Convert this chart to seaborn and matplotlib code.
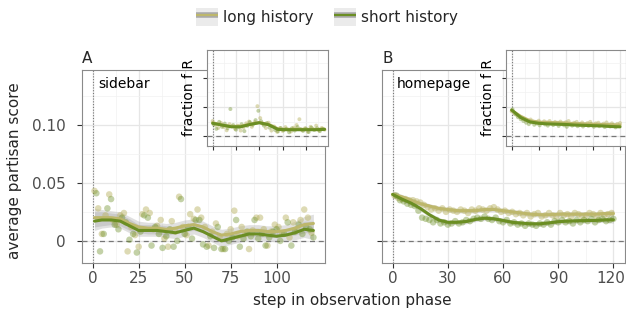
import numpy as np
import matplotlib
matplotlib.use("Agg")
import matplotlib.pyplot as plt
import matplotlib.transforms as mtransforms
import seaborn as sns
from matplotlib.patches import Patch
from matplotlib.lines import Line2D
from matplotlib.ticker import FixedLocator

# ---- data ----
series_names = ["long history", "short history"]
colors = {"long history": "#bdb76b", "short history": "#6b8e23"}

# panel A (sidebar): points, long at odd steps 1..119, short at even steps 2..120
a_long_pts = [0.043, 0.028, 0.006, 0.022, 0.040, 0.018, 0.014, 0.022, 0.024, -0.009,
              0.012, 0.005, -0.005, 0.023, 0.027, 0.024, 0.010, 0.013, 0.018, 0.002,
              -0.005, 0.017, 0.008, 0.038, 0.012, 0.005, 0.023, 0.019, 0.027, 0.020,
              0.012, -0.004, 0.008, 0.015, 0.003, -0.007, 0.006, 0.010, 0.026, 0.004,
              0.012, 0.006, -0.007, 0.009, 0.020, 0.020, 0.010, -0.004, 0.008, 0.014,
              0.012, 0.006, 0.020, 0.003, 0.016, 0.010, 0.018, 0.027, 0.020, 0.007]
a_short_pts = [0.041, -0.009, 0.006, 0.028, 0.036, 0.014, 0.010, 0.020, 0.016, 0.001,
               0.006, -0.010, 0.008, 0.022, 0.020, -0.004, 0.012, 0.006, -0.006, 0.004,
               0.010, -0.005, 0.000, 0.036, 0.006, 0.012, 0.002, 0.018, 0.018, -0.003,
               -0.005, 0.004, -0.006, 0.012, -0.007, -0.007, 0.000, 0.003, 0.018, -0.005,
               0.002, 0.008, 0.004, 0.018, 0.002, 0.006, -0.004, 0.003, 0.008, 0.010,
               0.000, 0.006, 0.016, -0.004, 0.008, 0.014, 0.006, 0.012, 0.010, 0.003]
# smoothed fits every 5 steps
smooth_steps = [1, 5, 10, 15, 20, 25, 30, 35, 40, 45, 50, 55, 60, 65, 70, 75, 80,
                85, 90, 95, 100, 105, 110, 115, 120]
a_long_fit = [0.020, 0.020, 0.020, 0.019, 0.015, 0.012, 0.011, 0.011, 0.010, 0.011,
              0.013, 0.014, 0.012, 0.008, 0.005, 0.006, 0.008, 0.009, 0.009, 0.008,
              0.008, 0.009, 0.011, 0.014, 0.015]
a_short_fit = [0.017, 0.018, 0.018, 0.017, 0.013, 0.009, 0.009, 0.009, 0.008, 0.007,
               0.009, 0.011, 0.008, 0.004, 0.000, 0.002, 0.004, 0.006, 0.006, 0.005,
               0.004, 0.005, 0.007, 0.010, 0.009]
a_band = [0.008, 0.007, 0.006, 0.006, 0.006, 0.005, 0.005, 0.005, 0.005, 0.005,
          0.005, 0.005, 0.005, 0.005, 0.005, 0.005, 0.005, 0.005, 0.005, 0.005,
          0.005, 0.005, 0.006, 0.007, 0.008]

# panel B (homepage)
b_long_pts = [0.039, 0.037, 0.036, 0.036, 0.035, 0.035, 0.034, 0.033, 0.031, 0.029,
              0.027, 0.028, 0.026, 0.028, 0.025, 0.027, 0.026, 0.025, 0.027, 0.026,
              0.024, 0.027, 0.026, 0.028, 0.027, 0.026, 0.028, 0.029, 0.027, 0.025,
              0.026, 0.024, 0.025, 0.023, 0.024, 0.022, 0.024, 0.021, 0.023, 0.024,
              0.021, 0.022, 0.024, 0.022, 0.021, 0.024, 0.022, 0.023, 0.021, 0.024,
              0.023, 0.021, 0.022, 0.024, 0.023, 0.021, 0.024, 0.022, 0.023, 0.024]
b_short_pts = [0.039, 0.035, 0.034, 0.032, 0.031, 0.030, 0.026, 0.020, 0.019, 0.018,
               0.016, 0.018, 0.015, 0.016, 0.014, 0.015, 0.017, 0.015, 0.016, 0.018,
               0.017, 0.019, 0.020, 0.019, 0.021, 0.019, 0.018, 0.020, 0.017, 0.016,
               0.018, 0.015, 0.016, 0.014, 0.015, 0.013, 0.015, 0.014, 0.013, 0.015,
               0.014, 0.016, 0.014, 0.017, 0.016, 0.018, 0.016, 0.017, 0.015, 0.018,
               0.016, 0.018, 0.017, 0.019, 0.016, 0.018, 0.019, 0.017, 0.018, 0.019]
b_smooth_steps = [0, 5, 10, 15, 20, 25, 30, 35, 40, 45, 50, 55, 60, 65, 70, 75, 80,
                  85, 90, 95, 100, 105, 110, 115, 120]
b_long_fit = [0.040, 0.038, 0.035, 0.032, 0.030, 0.028, 0.027, 0.026, 0.026, 0.026,
              0.027, 0.027, 0.026, 0.025, 0.024, 0.023, 0.0225, 0.0225, 0.023, 0.023,
              0.023, 0.023, 0.023, 0.0235, 0.0235]
b_short_fit = [0.040, 0.036, 0.0325, 0.028, 0.0225, 0.018, 0.016, 0.016, 0.0167, 0.0185,
               0.0195, 0.019, 0.0176, 0.016, 0.0153, 0.0147, 0.0147, 0.0155, 0.0165, 0.017,
               0.0173, 0.0175, 0.0176, 0.018, 0.0182]
b_band = [0.003, 0.002, 0.002, 0.002, 0.002, 0.002, 0.002, 0.002, 0.002, 0.002,
          0.002, 0.002, 0.002, 0.002, 0.002, 0.002, 0.002, 0.002, 0.002, 0.002,
          0.002, 0.002, 0.002, 0.002, 0.003]

# insets: fraction of R; long at steps 0..120 by 3, short at 1..118 by 3
ia_long_pts = [0.552, 0.538, 0.528, 0.545, 0.531, 0.520, 0.541, 0.534, 0.525, 0.536,
               0.519, 0.529, 0.544, 0.550, 0.532, 0.548, 0.603, 0.562, 0.541, 0.528,
               0.546, 0.519, 0.533, 0.515, 0.527, 0.518, 0.531, 0.522, 0.516, 0.529,
               0.538, 0.558, 0.520, 0.527, 0.515, 0.532, 0.524, 0.536, 0.519, 0.528,
               0.522]
ia_short_pts = [0.540, 0.525, 0.549, 0.532, 0.543, 0.527, 0.593, 0.538, 0.522, 0.530,
                0.541, 0.517, 0.535, 0.548, 0.539, 0.555, 0.587, 0.551, 0.536, 0.545,
                0.529, 0.533, 0.521, 0.516, 0.528, 0.520, 0.525, 0.513, 0.527, 0.519,
                0.531, 0.524, 0.518, 0.526, 0.514, 0.529, 0.521, 0.527, 0.517, 0.525]
inset_steps = [0, 10, 20, 30, 40, 50, 60, 70, 80, 90, 100, 110, 120]
ia_long_fit = [0.546, 0.538, 0.533, 0.534, 0.541, 0.547, 0.540, 0.525, 0.523, 0.524,
               0.523, 0.523, 0.524]
ia_short_fit = [0.544, 0.538, 0.532, 0.532, 0.540, 0.546, 0.539, 0.523, 0.522, 0.522,
                0.522, 0.522, 0.523]

ib_long_pts = [0.585, 0.578, 0.571, 0.566, 0.560, 0.556, 0.553, 0.557, 0.550, 0.549,
               0.553, 0.545, 0.551, 0.547, 0.552, 0.544, 0.549, 0.546, 0.550, 0.543,
               0.548, 0.552, 0.541, 0.546, 0.549, 0.542, 0.547, 0.540, 0.545, 0.549,
               0.539, 0.544, 0.546, 0.538, 0.543, 0.547, 0.540, 0.544, 0.537, 0.542,
               0.545]
ib_short_pts = [0.592, 0.575, 0.565, 0.558, 0.552, 0.546, 0.541, 0.547, 0.539, 0.543,
                0.537, 0.545, 0.540, 0.536, 0.544, 0.538, 0.542, 0.535, 0.541, 0.537,
                0.532, 0.540, 0.536, 0.543, 0.534, 0.539, 0.533, 0.538, 0.535, 0.541,
                0.532, 0.537, 0.534, 0.539, 0.531, 0.536, 0.533, 0.538, 0.530, 0.535]
ib_long_fit = [0.588, 0.568, 0.553, 0.548, 0.547, 0.546, 0.545, 0.543, 0.542, 0.541,
               0.540, 0.539, 0.538]
ib_short_fit = [0.590, 0.564, 0.549, 0.544, 0.542, 0.541, 0.540, 0.538, 0.537, 0.536,
                0.535, 0.533, 0.532]

a_xticks = [0, 25, 50, 75, 100]
b_xticks = [0, 30, 60, 90, 120]
y_ticks = [0, 0.05, 0.10]
y_ticklabels = ["0", "0.05", "0.10"]
inset_yticks = [0.5, 0.6, 0.7]


def steps(start, step, vals):
    return list(range(start, start + step * len(vals), step))


sns.set_theme(style="white")
plt.rcParams["font.family"] = ["DejaVu Sans"]

W, H = 626, 318
fig = plt.figure(figsize=(W / 100, H / 100), dpi=100)


def px_axes(x0, y0, x1, y1):
    return fig.add_axes([x0 / W, 1 - y1 / H, (x1 - x0) / W, (y1 - y0) / H])


def style(ax, xticks, minor_x, yticks, minor_y):
    ax.set_facecolor("white")
    for s in ax.spines.values():
        s.set_color("#8a8a8a")
        s.set_linewidth(0.8)
    ax.xaxis.set_major_locator(FixedLocator(xticks))
    ax.xaxis.set_minor_locator(FixedLocator(minor_x))
    ax.yaxis.set_major_locator(FixedLocator(yticks))
    ax.yaxis.set_minor_locator(FixedLocator(minor_y))
    ax.grid(True, which="major", color="#e6e6e6", lw=0.9)
    ax.grid(True, which="minor", color="#f2f2f2", lw=0.5)
    ax.set_axisbelow(True)
    ax.tick_params(which="major", length=3.5, width=0.8, color="#333333",
                   labelcolor="#4d4d4d", labelsize=11, pad=2,
                   bottom=True, left=True)
    ax.tick_params(which="minor", length=0)
    ax.axvline(0, color="#777777", lw=0.8, ls=(0, (1, 1.5)), zorder=1.5)
    ax.axhline(yticks[0], color="#777777", lw=0.9, ls=(0, (4, 3)), zorder=1.5)
    ax.set_xlabel("")
    ax.set_ylabel("")


def draw(ax, long_pts, short_pts, long_x, short_x, fit_x, long_fit, short_fit,
         band=None, s=22, lw=2.2):
    if band is not None:
        for fit in (long_fit, short_fit):
            lo = np.array(fit) - np.array(band)
            hi = np.array(fit) + np.array(band)
            ax.fill_between(fit_x, lo, hi, color="#9a9a9a", alpha=0.3, lw=0, zorder=2)
    sns.scatterplot(x=long_x, y=long_pts, ax=ax, color=colors["long history"],
                    s=s, alpha=0.5, edgecolor="none", legend=False, zorder=3)
    sns.scatterplot(x=short_x, y=short_pts, ax=ax, color=colors["short history"],
                    s=s, alpha=0.4, edgecolor="none", legend=False, zorder=3)
    sns.lineplot(x=fit_x, y=long_fit, ax=ax, color=colors["long history"], lw=lw,
                 zorder=4)
    sns.lineplot(x=fit_x, y=short_fit, ax=ax, color=colors["short history"], lw=lw,
                 zorder=4)


# main panels
axA = px_axes(82, 70, 325, 263)
axB = px_axes(382, 70, 625, 263)

draw(axA, a_long_pts, a_short_pts, steps(1, 2, a_long_pts), steps(2, 2, a_short_pts),
     smooth_steps, a_long_fit, a_short_fit, band=a_band)
draw(axB, b_long_pts, b_short_pts, steps(1, 2, b_long_pts), steps(2, 2, b_short_pts),
     b_smooth_steps, b_long_fit, b_short_fit, band=b_band)

ymin, ymax = -0.019, 0.147
for ax, xt, mx in ((axA, a_xticks, [12.5, 37.5, 62.5, 87.5, 112.5]),
                   (axB, b_xticks, [15, 45, 75, 105])):
    style(ax, xt, mx, y_ticks, [0.025, 0.075, 0.125])
    ax.set_xlim(-5.8, 126.3)
    ax.set_ylim(ymin, ymax)
    ax.set_xticklabels([str(t) for t in xt])
axA.set_yticklabels(y_ticklabels)
axA.tick_params(axis="y", pad=8)
axB.set_yticklabels([])

# nudge the last tick label of panel B so it stays inside the figure
last = axB.get_xticklabels()[-1]
last.set_transform(last.get_transform() +
                   mtransforms.ScaledTranslation(-3 / 100, 0, fig.dpi_scale_trans))

axA.text(0.066, 0.93, "sidebar", transform=axA.transAxes, fontsize=10,
         va="center", ha="left", color="black")
axB.text(0.062, 0.93, "homepage", transform=axB.transAxes, fontsize=10,
         va="center", ha="left", color="black")

# insets
insA = px_axes(207, 50, 328, 146)
insB = px_axes(506, 50, 626, 146)
draw(insA, ia_long_pts, ia_short_pts, steps(0, 3, ia_long_pts), steps(1, 3, ia_short_pts),
     inset_steps, ia_long_fit, ia_short_fit, s=8, lw=2.2)
draw(insB, ib_long_pts, ib_short_pts, steps(0, 3, ib_long_pts), steps(1, 3, ib_short_pts),
     inset_steps, ib_long_fit, ib_short_fit, s=8, lw=2.2)
style(insA, a_xticks, [12.5, 37.5, 62.5, 87.5, 112.5], inset_yticks, [0.55, 0.65, 0.75])
style(insB, b_xticks, [15, 45, 75, 105], inset_yticks, [0.55, 0.65, 0.75])
insA.set_xlim(-6.1, 123.7)
insB.set_xlim(-6.3, 126.6)
for ins in (insA, insB):
    ins.set_ylim(0.466, 0.796)
    ins.set_xticklabels([])
    ins.set_yticklabels([])
    ins.tick_params(length=3)
    ins.set_ylabel("fraction f R", fontsize=10, labelpad=3, color="black")

# figure texts
fig.text(82 / W, 1 - 58.5 / H, "A", fontsize=11, va="center", ha="left")
fig.text(382 / W, 1 - 58.5 / H, "B", fontsize=11, va="center", ha="left")
fig.text(352 / W, 1 - 301 / H, "step in observation phase", fontsize=11,
         ha="center", va="center")
fig.text(15 / W, 1 - 171 / H, "average partisan score", fontsize=11,
         ha="center", va="center", rotation=90)

# legend: grey key box with a grey ribbon band and the coloured line
handles = []
for name in series_names:
    bg = Patch(facecolor="#ebebeb", edgecolor="none")
    band = Line2D([], [], color="#a9a9a9", lw=4, solid_capstyle="butt")
    line = Line2D([], [], color=colors[name], lw=1.6, solid_capstyle="butt")
    handles.append((bg, band, line))
fig.legend(handles, series_names, loc="center", bbox_to_anchor=(0.522, 0.947),
           ncol=2, frameon=False, fontsize=11, handlelength=1.45, handleheight=1.45,
           handletextpad=0.35, columnspacing=1.3, borderpad=0)

fig.savefig("out.png", dpi=100)
